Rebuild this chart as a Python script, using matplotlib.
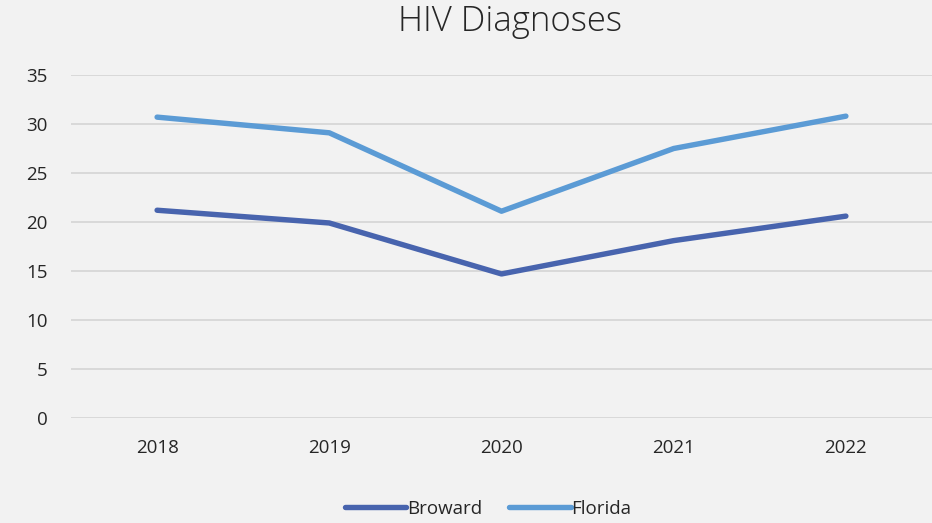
import matplotlib.pyplot as plt

years = ["2018", "2019", "2020", "2021", "2022"]
broward = [21.2, 19.9, 14.7, 18.1, 20.6]
florida = [30.7, 29.1, 21.1, 27.5, 30.8]
yticks = [0, 5, 10, 15, 20, 25, 30, 35]

plt.rcParams['font.family'] = ['Open Sans', 'DejaVu Sans']

bg = "#F2F2F2"
fig = plt.figure(figsize=(9.32, 5.23), dpi=100, facecolor=bg)
ax = fig.add_axes([71 / 932, (523 - 418) / 523, 1 - 71 / 932, (418 - 75) / 523])
ax.set_facecolor(bg)

x = list(range(len(years)))
ax.plot(x, broward, color="#4864AE", lw=3.9, solid_capstyle="round", label="Broward")
ax.plot(x, florida, color="#5B9BD5", lw=3.9, solid_capstyle="round", label="Florida")

ax.set_xlim(-0.5, len(years) - 0.5)
ax.set_ylim(0, 35)
ax.set_yticks(yticks)
ax.set_xticks(x)
ax.set_xticklabels(years)
ax.yaxis.grid(True, color="#D9D9D9", lw=1.4)
ax.set_axisbelow(True)
for s in ax.spines.values():
    s.set_visible(False)
ax.tick_params(length=0, labelsize=13.5, colors="#404040", labelcolor="#262626")
ax.tick_params(axis="y", pad=17)
ax.tick_params(axis="x", pad=15)

fig.text(510 / 932, 1 - 22 / 523, "HIV Diagnoses", ha="center", va="center",
         fontsize=25, color="#262626", fontweight="light")

fig.legend(loc="center", bbox_to_anchor=(488 / 932, 1 - 509 / 523), ncol=2,
           frameon=False, fontsize=13.5, handlelength=3.3, handletextpad=0.05,
           columnspacing=1.4, labelcolor="#262626")

fig.savefig("out.png", dpi=100, facecolor=bg)
